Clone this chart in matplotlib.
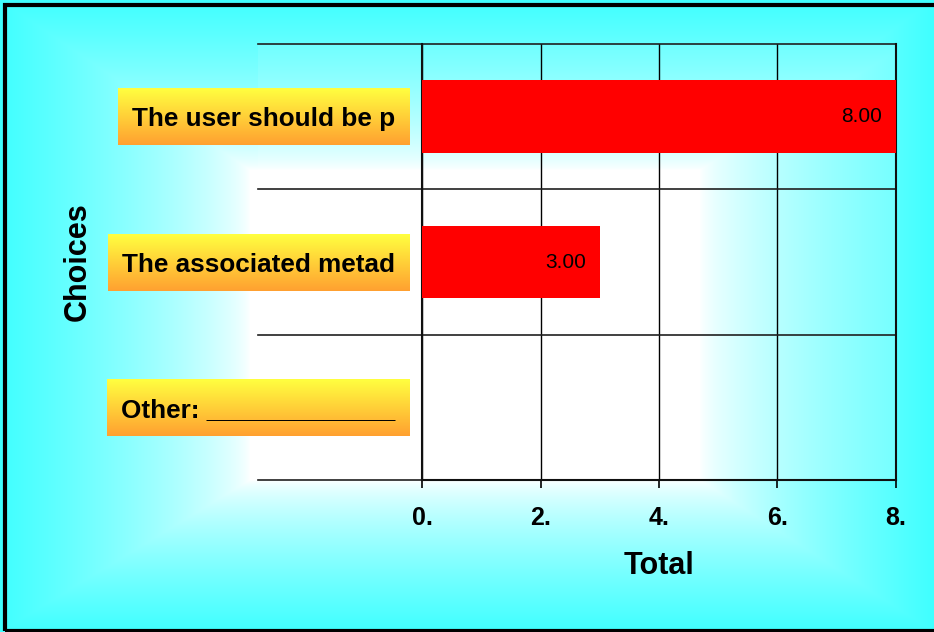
import numpy as np
import matplotlib
matplotlib.use('Agg')
import matplotlib.pyplot as plt
from matplotlib.patches import Rectangle

plt.rcParams['font.family'] = ['Liberation Sans', 'DejaVu Sans']

# data
choices = ['The user should be p', 'The associated metad', 'Other: _____________']
totals = [8.0, 3.0, 0.0]
x_ticks = [0, 2, 4, 6, 8]
x_tick_labels = ['0.', '2.', '4.', '6.', '8.']

# layout (pixels, image coords from top-left)
W, H = 934, 632
PLOT_L, PLOT_R, PLOT_T, PLOT_B = 422, 896, 44, 480
GRID_L = 258

CYAN = np.array([0.25, 1.0, 1.0])
WHITE = np.array([1.0, 1.0, 1.0])


def fade(coord, lo, hi, size, s_lo, s_hi):
    a = np.clip((lo - coord) / max(lo, 1), 0, 1) * s_lo
    b = np.clip((coord - hi) / max(size - hi, 1), 0, 1) * s_hi
    return np.maximum(a, b)


def rect_gradient(w, h, x0, x1, y0, y1, sl, sr, st, sb, gamma=0.7):
    xs = np.arange(w) + 0.5
    ys = np.arange(h) + 0.5
    t = np.maximum(fade(xs, x0, x1, w, sl, sr)[None, :],
                   fade(ys, y0, y1, h, st, sb)[:, None]) ** gamma
    return WHITE * (1 - t[..., None]) + CYAN * t[..., None]


fig = plt.figure(figsize=(W / 100, H / 100), dpi=100)

# background (chart area + plot area gradients)
bg = fig.add_axes([0, 0, 1, 1], zorder=-1)
bg.axis('off')
bg.imshow(rect_gradient(W, H, 250, 700, 170, 480, 1, 1, 1, 1),
          extent=(0, W, 0, H), aspect='auto', interpolation='bilinear')
pw, ph = PLOT_R - GRID_L, PLOT_B - PLOT_T
bg.imshow(rect_gradient(pw, ph, 0, 700 - GRID_L, 170 - PLOT_T, ph, 0, 0.62, 0.66, 0),
          extent=(GRID_L, PLOT_R, H - PLOT_B, H - PLOT_T), aspect='auto',
          interpolation='bilinear')

# main axes
ax = fig.add_axes([PLOT_L / W, 1 - PLOT_B / H, (PLOT_R - PLOT_L) / W, (PLOT_B - PLOT_T) / H])
ax.patch.set_visible(False)
y = np.arange(len(choices))
ax.barh(y, totals, height=0.5, color='#FF0000', zorder=3)
ax.set_xlim(0, 8)
ax.set_ylim(len(choices) - 0.5, -0.5)

for i, v in enumerate(totals):
    if v > 0:
        ax.annotate(f'{v:.2f}', (v, i), xytext=(-14, 0), textcoords='offset pixels',
                    ha='right', va='center', fontsize=15, color='black', zorder=4)

# grid lines
ax.set_xticks(x_ticks)
ax.set_xticklabels(x_tick_labels, fontsize=18, fontweight='bold')
ax.grid(axis='x', color='black', linewidth=1, zorder=1)
ext = (GRID_L - PLOT_L) / (PLOT_R - PLOT_L)
for b in np.arange(len(choices) + 1) - 0.5:
    ax.axhline(b, xmin=ext, xmax=1, color='#202020', linewidth=1.2, clip_on=False, zorder=2)

for s in ['left', 'right', 'bottom']:
    ax.spines[s].set_linewidth(1.5)
    ax.spines[s].set_color('#101010')
ax.spines['top'].set_visible(False)

ax.set_yticks(y)
ax.set_yticklabels(choices, fontsize=18.8, fontweight='bold')
ax.tick_params(axis='y', length=0, pad=19.5)
ax.tick_params(axis='x', length=6, width=1.2, direction='out', pad=13)

ax.set_xlabel('Total', fontsize=22, fontweight='bold', labelpad=15)
ax.set_ylabel('Choices', fontsize=22, fontweight='bold', labelpad=20)

# yellow label boxes behind the category names
fig.canvas.draw()
renderer = fig.canvas.get_renderer()
col = np.linspace(0, 1, 60)[:, None, None]
box_grad = np.array([1.0, 1.0, 0.25]) * (1 - col) + np.array([1.0, 0.63, 0.19]) * col
box_grad = np.repeat(box_grad, 2, axis=1)
right = PLOT_L - 13
for i, lbl in enumerate(ax.get_yticklabels()):
    bb = lbl.get_window_extent(renderer)
    cy = ax.transData.transform((0, y[i]))[1]
    bg.imshow(box_grad, extent=(bb.x0 - 14, right, cy - 28.5, cy + 28.5),
              aspect='auto', interpolation='bilinear', zorder=2)

# outer black frame
bg.add_patch(Rectangle((5, 1.5), W + 10, H - 6.5, fill=False, edgecolor='black',
                       linewidth=3, clip_on=False, zorder=5))
bg.set_xlim(0, W)
bg.set_ylim(0, H)

fig.savefig('out.png', dpi=100)
